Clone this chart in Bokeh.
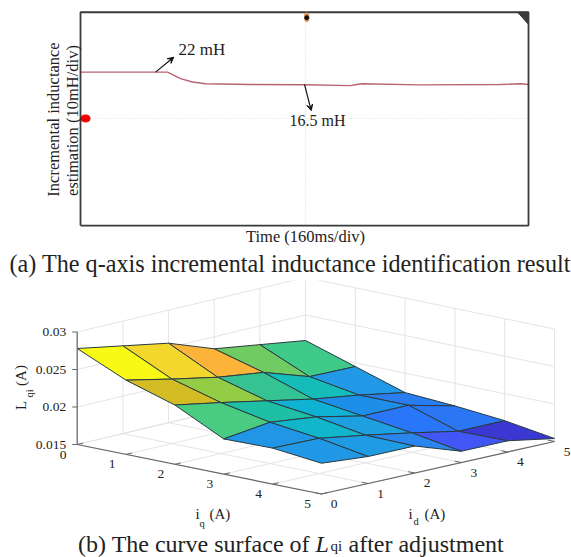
from bokeh.plotting import figure
from bokeh.layouts import column
from bokeh.models import Range1d, Arrow, VeeHead, ColumnDataSource
from bokeh.core.properties import value
from bokeh.embed import file_html
from bokeh.resources import INLINE

# ---------- panel (a): oscilloscope trace ----------
time_ms = [0, 311, 329, 357, 400, 446, 607, 804, 964, 986, 1007, 1214, 1500, 1571, 1600]
L_mH = [22, 22, 20.9, 19.1, 17.6, 16.8, 16.5, 16.4, 16.0, 16.5, 16.8, 16.3, 16.5, 16.8, 16.5]
TIME_MAX, Y_TOP, Y_BOTTOM = 1600, 48.6, -46.2
CENTER_T, CENTER_Y = 804, 1.4

# ---------- panel (b): surface L_qi(i_q, i_d), rows = i_q, columns = i_d ----------
iq_ticks = [0, 1, 2, 3, 4, 5]
id_ticks = [0, 1, 2, 3, 4, 5]
z_ticks = [0.015, 0.02, 0.025, 0.03]
z_tick_labels = ["0.015", "0.02", "0.025", "0.03"]
Lqi = [
    [0.0278, 0.0267, 0.0256, 0.0234, 0.0225, 0.0216],
    [0.0249, 0.0236, 0.0224, 0.0216, 0.0196, 0.0195],
    [0.0229, 0.0218, 0.0206, 0.0194, 0.0185, 0.0174],
    [0.0197, 0.0205, 0.0198, 0.0185, 0.0185, 0.0170],
    [0.0198, 0.0197, 0.0187, 0.0176, 0.0164, 0.0164],
    [0.0191, 0.0186, 0.0186, 0.0165, 0.0165, 0.0154],
]
cell_colors = [
    ["#f8fa15", "#f4d72c", "#fbb33a", "#70cb63", "#3fca89"],
    ["#d4bc24", "#93cc45", "#35c394", "#14bdb9", "#2199e6"],
    ["#4acb82", "#1fbfa5", "#0fb2d2", "#1e8fe8", "#2a7df0"],
    ["#2196e6", "#12b6cb", "#1d9fe0", "#2a76f8", "#2a76f5"],
    ["#2098e5", "#1e9be2", "#2a85ee", "#4255f5", "#3b37d2"],
]

SERIF = "Liberation Serif"
W = 571
H_A, H_B = 280, 277
TXT = "#222222"

# ---------- panel (a): the frame fills the canvas, the scope box is drawn in data units ----------
MS_PER_PX = 1600 / 448
MH_PER_PX = 1 / 2.25
BOX_LEFT_PX, REF_PX = 80, 71.6


def ax(px):
    return (px - BOX_LEFT_PX) * MS_PER_PX


def ay(py):
    return 22 - (py - REF_PX) * MH_PER_PX


a = figure(width=W, height=H_A, output_backend="svg", toolbar_location=None,
           x_range=Range1d(ax(0), ax(W)), y_range=Range1d(ay(H_A), ay(0)),
           min_border=0, outline_line_color=None)
a.axis.visible = False
a.grid.visible = False

a.line([CENTER_T, CENTER_T], [Y_BOTTOM, Y_TOP], line_color="#d8d8d8", line_width=1, line_dash="1 2")
a.line([0, TIME_MAX], [CENTER_Y, CENTER_Y], line_color="#e2e2e2", line_width=1, line_dash="1 2")
a.line(time_ms, L_mH, line_color="#b86472", line_width=1.4)
a.line([0, TIME_MAX, TIME_MAX, 0, 0], [Y_BOTTOM, Y_BOTTOM, Y_TOP, Y_TOP, Y_BOTTOM],
       line_color="#3a3a3a", line_width=1.8)

a.ellipse([18], [1.4], width=32, height=3.1, color="#f00000")
a.ellipse([808], [46.4], width=16, height=4, color="#d8925a")
a.scatter([808], [46.2], size=4, color="#111111", marker="circle")
a.patch([1561, 1600, 1600], [48.6, 48.6, 43.2], color="#3a3a3a")

head = dict(size=6, fill_color="#111111", line_color="#111111")
a.add_layout(Arrow(end=VeeHead(**head), x_start=268, y_start=22, x_end=333, y_end=28.6,
                   line_color="#111111", line_width=1.2))
a.add_layout(Arrow(end=VeeHead(**head), x_start=800, y_start=16.5, x_end=824, y_end=4.9,
                   line_color="#111111", line_width=1.2))


def atxt(px, py, s, size, align="left", angle=0):
    a.text([ax(px)], [ay(py)], text=[s], text_font=value(SERIF), text_font_size=value(size),
           text_align=align, text_baseline="middle", angle=angle, text_color=TXT)


atxt(178, 49, "22 mH", "17px")
atxt(289, 120, "16.5 mH", "16px")
atxt(305, 236, "Time (160ms/div)", "16.5px", align="center")
atxt(53, 119, "Incremental inductance", "16.5px", align="center", angle=1.5708)
atxt(72, 120, "estimation (10mH/div)", "16.5px", align="center", angle=1.5708)
atxt(9, 263, "(a) The q-axis incremental inductance identification result", "24.2px")

# ---------- panel (b): projected plane ----------
FLOOR = {"A": (76.7, 164), "B": (321, 213.5), "C": (554, 161), "D": (305, 109.5)}
Z_PER_UNIT = 7500


def project(iq, idv, z=0.015):
    u, v = iq / 5, idv / 5
    w = [(1 - u) * (1 - v), u * (1 - v), u * v, (1 - u) * v]
    x = sum(FLOOR[k][0] * f for k, f in zip("ABCD", w))
    y = sum(FLOOR[k][1] * f for k, f in zip("ABCD", w))
    return x, y - (z - 0.015) * Z_PER_UNIT


b = figure(width=W, height=H_B, output_backend="svg", toolbar_location=None,
           x_range=Range1d(0, W), y_range=Range1d(H_B, 0),
           min_border=0, outline_line_color=None)
b.axis.visible = False
b.grid.visible = False

GRID = "#e4e4e4"


def seg(p0, p1, color=GRID, width=1):
    b.line([p0[0], p1[0]], [p0[1], p1[1]], line_color=color, line_width=width)


# back walls and floor grid
for t in iq_ticks:
    seg(project(t, 0), project(t, 5))
    seg(project(t, 5), project(t, 5, 0.03))
for t in id_ticks:
    seg(project(0, t), project(5, t))
    seg(project(0, t), project(0, t, 0.03))
for z in z_ticks:
    seg(project(0, 0, z), project(0, 5, z))
    seg(project(0, 5, z), project(5, 5, z))

# surface, far cells first
xs, ys, cols = [], [], []
for i in range(5):
    for j in range(4, -1, -1):
        corners = [project(i, j, Lqi[i][j]), project(i, j + 1, Lqi[i][j + 1]),
                   project(i + 1, j + 1, Lqi[i + 1][j + 1]), project(i + 1, j, Lqi[i + 1][j])]
        xs.append([c[0] for c in corners])
        ys.append([c[1] for c in corners])
        cols.append(cell_colors[i][j])
b.patches("xs", "ys", source=ColumnDataSource(dict(xs=xs, ys=ys, c=cols)),
          fill_color="c", line_color="#2a3a40", line_width=1)

# axes
AXIS = "#666666"
seg(project(0, 0), project(0, 0, 0.03), AXIS, 1.2)
seg(project(0, 0), project(5, 0), AXIS, 1.2)
seg(project(5, 0), project(5, 5), AXIS, 1.2)
for z in z_ticks:
    x0, y0 = project(0, 0, z)
    seg((x0 - 5, y0), (x0, y0), AXIS)
for t in iq_ticks:
    seg(project(t, 0), project(t, 0.13), AXIS)
for t in id_ticks:
    seg(project(5, t), project(4.87, t), AXIS)


def txt(x, y, s, size="13px", align="center", angle=0, style="normal"):
    b.text([x], [y], text=[s], text_font=value(SERIF), text_font_size=value(size),
           text_align=align, text_baseline="middle", angle=angle, text_color=TXT,
           text_font_style=style)


for z, s in zip(z_ticks, z_tick_labels):
    x0, y0 = project(0, 0, z)
    txt(x0 - 11, y0, s, size="13.5px", align="right")
for t in iq_ticks:
    x0, y0 = project(t, 0)
    txt(x0 - 14, y0 + 10, str(t), size="13.5px")
for t in id_ticks:
    x0, y0 = project(5, t)
    txt(x0 + 12.5, y0 + 10, str(t), size="13.5px")

txt(20, 125, "L", size="15px", angle=1.5708)
txt(29, 113, "qi", size="10.5px", angle=1.5708)
txt(20, 95, "(A)", size="15px", angle=1.5708)
txt(195, 233, "i", size="15px", align="left")
txt(199, 243, "q", size="10.5px", align="left")
txt(209, 233, "(A)", size="15px", align="left")
txt(408, 233, "i", size="15px", align="left")
txt(413, 241, "d", size="10.5px", align="left")
txt(424, 233, "(A)", size="15px", align="left")

txt(77.6, 263, "(b) The curve surface of", size="24px", align="left")
txt(315, 263, "L", size="24px", align="left", style="italic")
txt(330, 265, "qi", size="15px", align="left")
txt(348, 263, "after adjustment", size="24px", align="left")

page = column(a, b, spacing=0)
open("out.html", "w").write(file_html(page, INLINE))
